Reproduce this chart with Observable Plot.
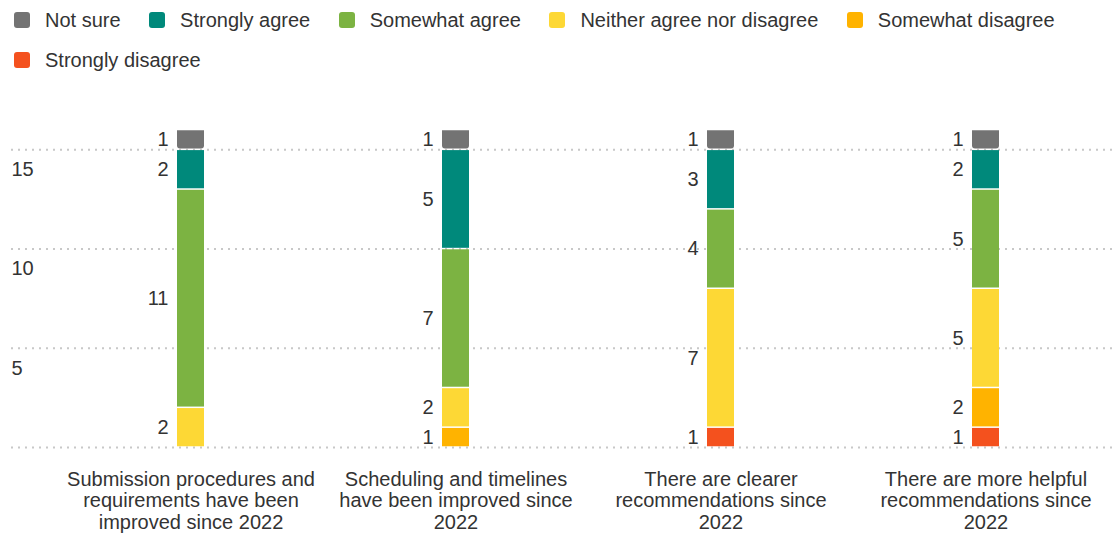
<!DOCTYPE html>
<html>
<head>
<meta charset="utf-8">
<script src="https://cdn.jsdelivr.net/npm/d3@7"></script>
<script src="https://cdn.jsdelivr.net/npm/@observablehq/plot@0.6"></script>
<style>
  html, body { margin: 0; padding: 0; background: #fff; }
  body { width: 1114px; height: 535px; overflow: hidden; font-family: "Liberation Sans", Arial, sans-serif; color: #333; }
  #legend { display: flex; flex-wrap: wrap; align-content: flex-start; row-gap: 19.5px; padding: 10px 0 0 14px; height: 70px; box-sizing: content-box; width: 1100px; }
  .item { display: flex; align-items: center; height: 20px; margin-right: 28.5px; font-size: 20px; line-height: 20px; white-space: nowrap; }
  .sw { width: 16px; height: 16px; border-radius: 3px; margin-right: 15px; flex: none; }
  #chart { position: absolute; top: 80px; left: 0; }
  #chart svg { display: block; }
</style>
</head>
<body>
<div id="legend"></div>
<div id="chart"></div>
<script>
const categories = [
  "Submission procedures and requirements have been improved since 2022",
  "Scheduling and timelines have been improved since 2022",
  "There are clearer recommendations since 2022",
  "There are more helpful recommendations since 2022"
];
const categoryLabels = [
  "Submission procedures and\nrequirements have been\nimproved since 2022",
  "Scheduling and timelines\nhave been improved since\n2022",
  "There are clearer\nrecommendations since\n2022",
  "There are more helpful\nrecommendations since\n2022"
];
const responses = ["Not sure", "Strongly agree", "Somewhat agree", "Neither agree nor disagree", "Somewhat disagree", "Strongly disagree"];
const colors = ["#737373", "#00897b", "#7cb342", "#fdd835", "#ffb300", "#f4511e"];
const notSure          = [1, 1, 1, 1];
const stronglyAgree    = [2, 5, 3, 2];
const somewhatAgree    = [11, 7, 4, 5];
const neither          = [2, 2, 7, 5];
const somewhatDisagree = [0, 1, 0, 2];
const stronglyDisagree = [0, 0, 1, 1];
const yTickLabels = [5, 10, 15];
const gridTicks = [0, 5, 10, 15];

const series = [notSure, stronglyAgree, somewhatAgree, neither, somewhatDisagree, stronglyDisagree];
const stackOrder = responses.slice().reverse();
const table = [];
categories.forEach((c, i) => {
  responses.forEach((r, j) => {
    const v = series[j][i];
    if (v > 0) table.push({category: c, response: r, value: v});
  });
});

// legend
const legend = document.getElementById("legend");
responses.forEach((r, i) => {
  const it = document.createElement("div");
  it.className = "item";
  const sw = document.createElement("span");
  sw.className = "sw";
  sw.style.background = colors[i];
  it.appendChild(sw);
  it.appendChild(document.createTextNode(r));
  legend.appendChild(it);
});

const labelOf = new Map(categories.map((c, i) => [c, categoryLabels[i]]));
const stackOpts = (extra) => Plot.stackY({
  x: "category", y: "value", z: "response", fill: "response", order: stackOrder, ...extra
});

const plot = Plot.plot({
  width: 1114,
  height: 455,
  marginTop: 49.5,
  marginBottom: 88,
  marginLeft: 11,
  marginRight: 0,
  style: {fontFamily: "'Liberation Sans', Arial, sans-serif", fontSize: "20px", color: "#333", background: "#fff"},
  x: {domain: categories, range: [58, 1118.8], padding: 0, label: null},
  y: {domain: [0, 16], axis: null},
  color: {domain: responses, range: colors},
  marks: [
    Plot.ruleY(gridTicks, {stroke: "#c8c8c8", strokeWidth: 2, strokeDasharray: "2 5"}),
    Plot.text(yTickLabels, {y: d => d, text: d => String(d), frameAnchor: "left", textAnchor: "start", dy: 20, fill: "#333"}),
    Plot.barY(table, stackOpts({insetLeft: 119, insetRight: 119, insetTop: 0.75, insetBottom: 0.75,
      fillOpacity: d => d.response === "Not sure" ? 0 : 1})),
    Plot.barY(table, stackOpts({insetLeft: 119, insetRight: 119, insetTop: 0.75, insetBottom: 0.75, ry2: 3,
      fillOpacity: d => d.response === "Not sure" ? 1 : 0})),
    Plot.text(table, Plot.stackY({x: "category", y: "value", z: "response", order: stackOrder,
      text: d => String(d.value), textAnchor: "end", dx: -22.5, fill: "#333"})),
    Plot.axisX({tickSize: 0, tickPadding: 23, lineHeight: 1.08, fill: "#333",
      tickFormat: d => labelOf.get(d), label: null})
  ]
});
document.getElementById("chart").appendChild(plot);
</script>
</body>
</html>
